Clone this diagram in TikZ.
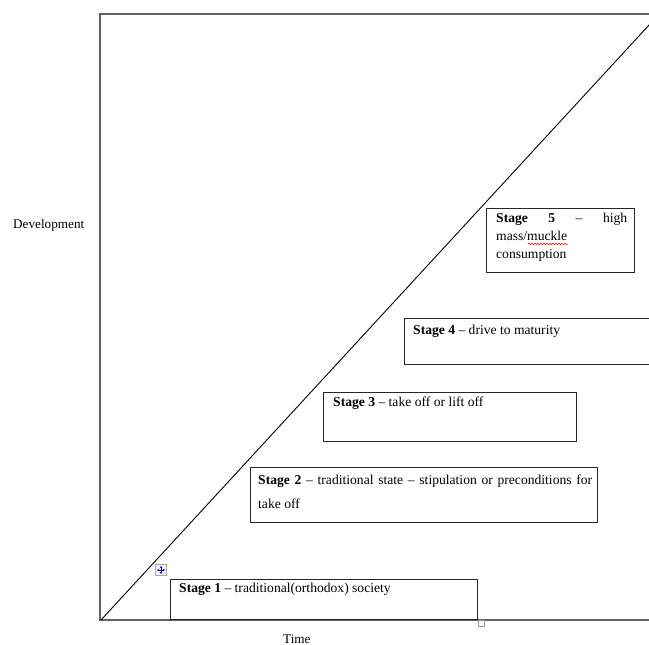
\documentclass[tikz,border=0pt]{standalone}
\usepackage{fontspec}
\setmainfont{Liberation Serif}
\usetikzlibrary{arrows.meta,decorations.pathmorphing}
\begin{document}
\begin{tikzpicture}[x=1pt,y=-1pt,
  axisline/.style={draw=black!62, line width=1.5pt},
  diag/.style={draw=black, line width=0.9pt},
  stagebox/.style={draw=black!85, line width=1.1pt, anchor=north west, inner sep=0pt, fill=none},
  stagetext/.style={anchor=base west, inner sep=0pt, font=\fontsize{13.6}{18}\selectfont},
  axislabel/.style={anchor=base west, inner sep=0pt, font=\fontsize{13.2}{16}\selectfont},
  spellwave/.style={draw=red, line width=0.5pt, decorate, decoration={snake, amplitude=0.9pt, segment length=3pt}}]
\useasboundingbox (0,0) rectangle (649,645);
% frame
\coordinate (TL) at (100,14);
\coordinate (TR) at (652,14);
\coordinate (BL) at (100,620);
\coordinate (BR) at (652,620);
\draw[axisline] (TR) -- (TL) -- (BL) -- (BR);
% diagonal
\coordinate (O) at (101,620);
\coordinate (E) at (650,24);
\draw[diag] (O) -- (E);
% stage boxes
\node[stagebox, minimum width=307pt, minimum height=40pt, line width=1.4pt] (b1) at (170,579) {};
\node[stagebox, minimum width=347pt, minimum height=55pt] (b2) at (250,467) {};
\node[stagebox, minimum width=253pt, minimum height=49pt] (b3) at (323,392) {};
\node[stagebox, minimum width=260pt, minimum height=46pt] (b4) at (404,318) {};
\node[stagebox, minimum width=148pt, minimum height=64pt] (b5) at (486,208) {};
% texts
\node[stagetext] (t1) at (179,592) {\textbf{Stage 1} – traditional(orthodox) society};
\node[stagetext] (t2) at (258,484) {\vtop{\baselineskip=24pt
  \hbox to 334pt{\textbf{Stage 2} – traditional state – stipulation or preconditions for}
  \hbox{take off}}};
\node[stagetext] (t3) at (333,406) {\textbf{Stage 3} – take off or lift off};
\node[stagetext] (t4) at (413,334) {\textbf{Stage 4} – drive to maturity};
\node[stagetext] (t5) at (496,222) {\vtop{\baselineskip=18pt
  \hbox to 131pt{\textbf{Stage}\hfill\textbf{5}\hfill–\hfill high}
  \hbox{mass/muckle}
  \hbox{consumption}}};
\coordinate (w1) at (528,244);
\coordinate (w2) at (568,244);
\draw[spellwave] (w1) -- (w2);
% axis labels
\node[axislabel] (dev) at (13,228) {Development};
\node[axislabel] (time) at (283,643) {Time};
% word handles
\node[draw=black!35, fill=blue!4, line width=0.6pt, minimum size=11pt, inner sep=0pt] (mv) at (161,570) {};
\draw[blue!60!black, line width=0.6pt, -{Stealth[length=2pt,width=2.5pt]}] (mv.center) -- ++(0,-4);
\draw[blue!60!black, line width=0.6pt, -{Stealth[length=2pt,width=2.5pt]}] (mv.center) -- ++(0,4);
\draw[blue!60!black, line width=0.6pt, -{Stealth[length=2pt,width=2.5pt]}] (mv.center) -- ++(-4,0);
\draw[blue!60!black, line width=0.6pt, -{Stealth[length=2pt,width=2.5pt]}] (mv.center) -- ++(4,0);
\node[draw=black!40, fill=white, line width=0.6pt, minimum size=6pt, inner sep=0pt, anchor=north west] (hd) at (b1.south east) {};
\end{tikzpicture}
\end{document}
